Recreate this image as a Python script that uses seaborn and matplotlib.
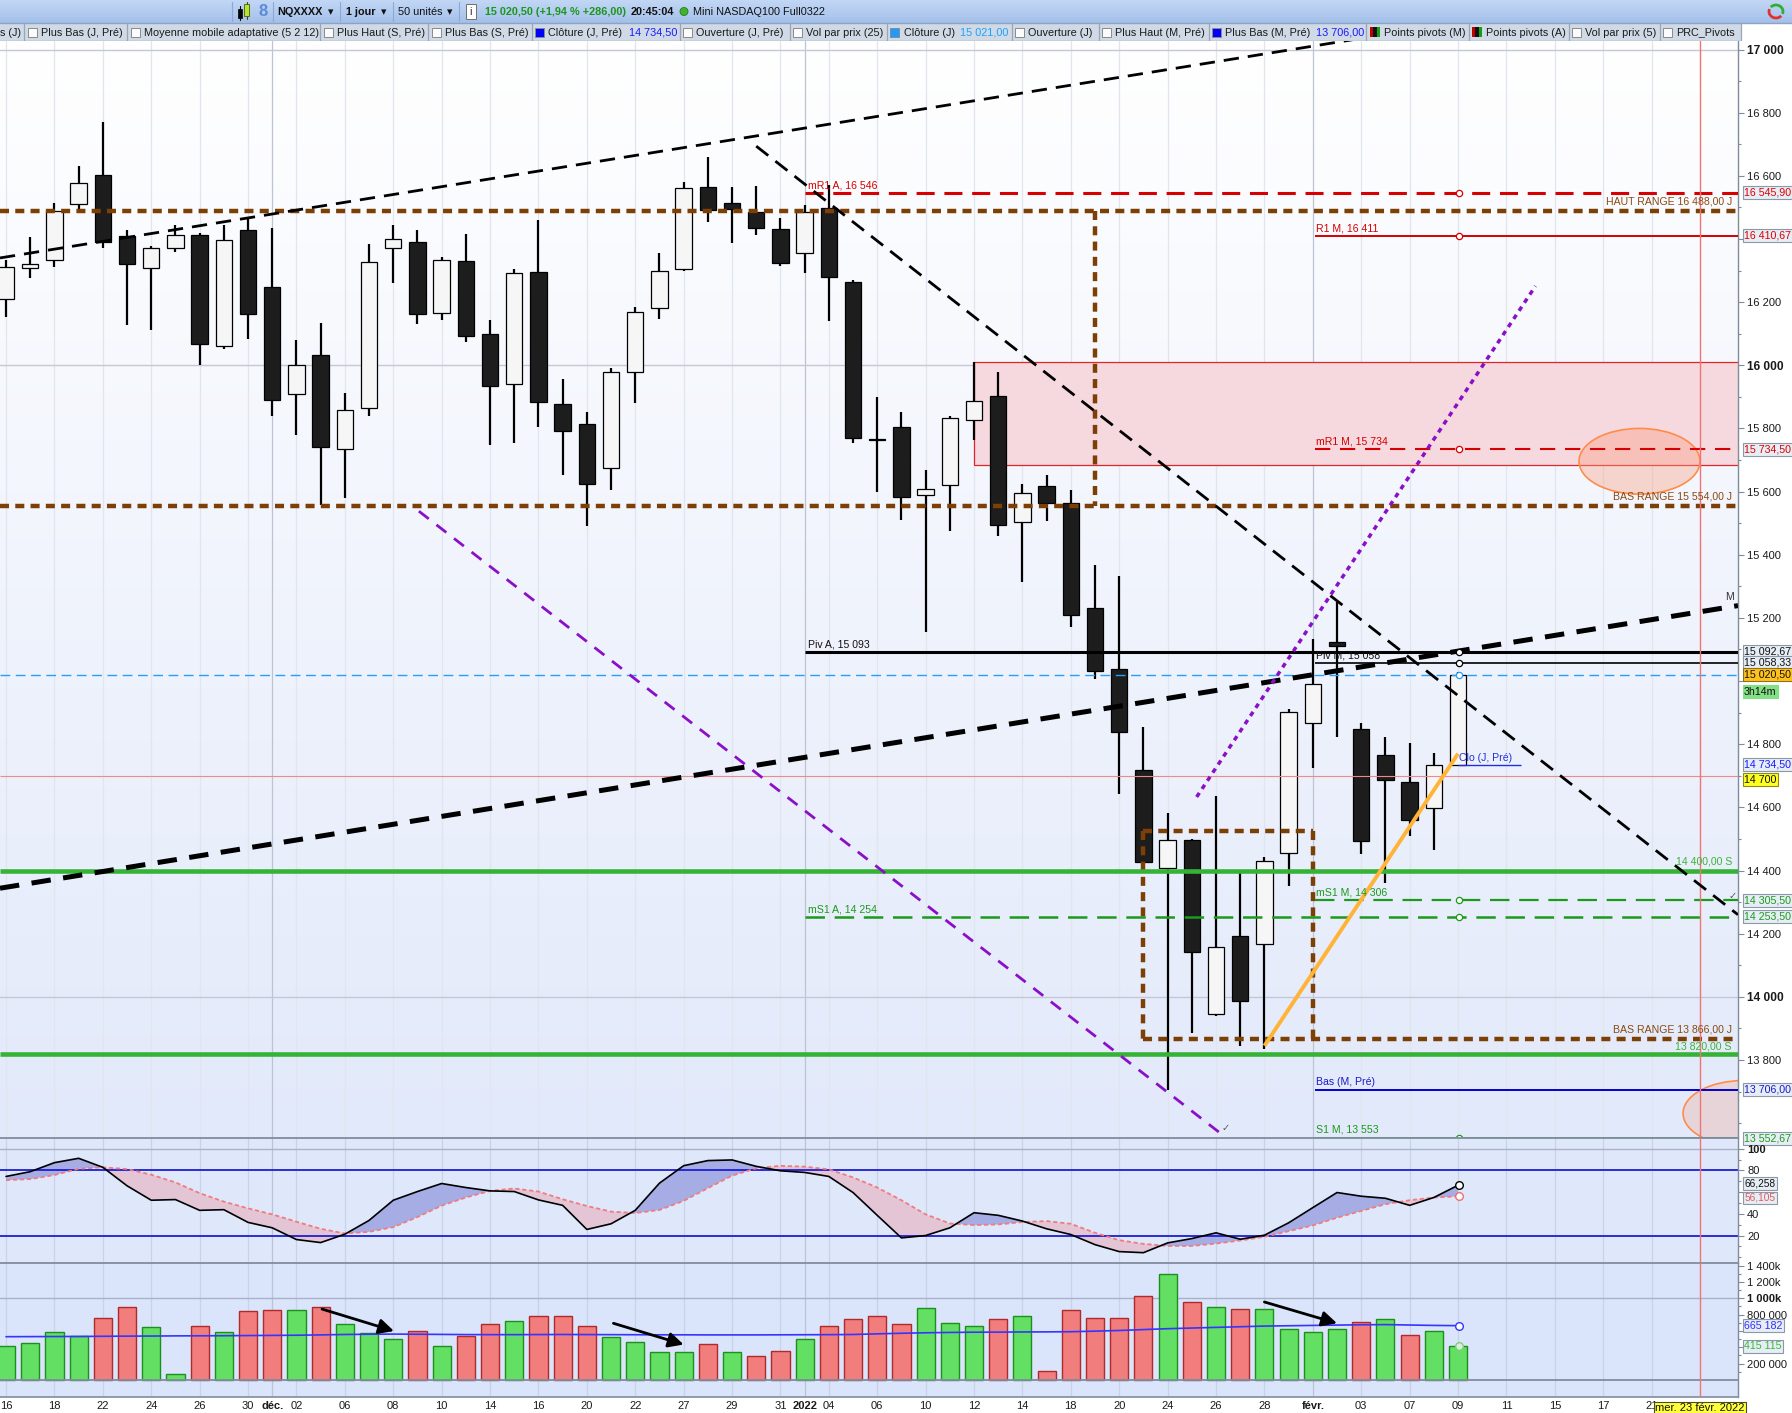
import numpy as np
import pandas as pd
import matplotlib
matplotlib.use("Agg")
import matplotlib.pyplot as plt
import matplotlib.transforms as mtransforms
from matplotlib.patches import Rectangle, Ellipse, Circle, Arc
from matplotlib.colors import LinearSegmentedColormap
import seaborn as sns

sns.set_style("white")
plt.rcParams['font.family'] = ['Liberation Sans', 'DejaVu Sans']
plt.rcParams['lines.scale_dashes'] = False
plt.rcParams['axes.unicode_minus'] = False

# ---------------- data ----------------
tick_pos = [0, 2, 4, 6, 8, 10, 11, 12, 14, 16, 18, 20, 22, 24, 26, 28, 30, 32, 33, 34,
            36, 38, 40, 42, 44, 46, 48, 50, 52, 54, 56, 58, 60, 62, 64, 66, 68]
tick_text = ["16", "18", "22", "24", "26", "30", "déc.", "02", "06", "08", "10", "14", "16",
             "20", "22", "27", "29", "31", "2022", "04", "06", "10", "12", "14", "18", "20",
             "24", "26", "28", "févr.", "03", "07", "09", "11", "15", "17", "21"]
bold_ticks = ["déc.", "2022", "févr."]

opens = [16211, 16307, 16332, 16510, 16604, 16408, 16309, 16370, 16414, 16061,
         16427, 16249, 15909, 16034, 15735, 15864, 16370, 16389, 16167, 16330,
         16100, 15940, 16296, 15879, 15813, 15676, 15980, 16182, 16305, 16565,
         16514, 16485, 16432, 16356, 16499, 16265, 15766, 15804, 15590, 15621,
         15827, 15904, 15504, 15619, 15563, 15232, 15039, 14719, 14409, 14496,
         13945, 14193, 14167, 14454, 14866, 15125, 14848, 14767, 14681, 14598,
         14734.5]
highs = [16332, 16405, 16514, 16632, 16769, 16427, 16377, 16445, 16420, 16445,
         16464, 16436, 16080, 16134, 15913, 16383, 16445, 16427, 16342, 16417,
         16143, 16305, 16461, 15958, 15853, 15990, 16186, 16357, 16581, 16660,
         16565, 16569, 16465, 16508, 16570, 16270, 15899, 15853, 15669, 15841,
         16010, 15980, 15623, 15654, 15604, 15367, 15334, 14855, 14581, 14500,
         14637, 14393, 14442, 14910, 15132, 15251, 14868, 14824, 14804, 14773,
         15030]
lows = [16154, 16277, 16312, 16495, 16371, 16128, 16113, 16359, 16001, 16051,
        16082, 15841, 15779, 15559, 15580, 15839, 16260, 16132, 16145, 16073,
        15749, 15755, 15805, 15652, 15491, 15605, 15880, 16146, 16300, 16453,
        16387, 16412, 16314, 16292, 16139, 15754, 15599, 15510, 15154, 15475,
        15764, 15460, 15314, 15506, 15172, 15007, 14642, 14420, 13706, 13887,
        13940, 13845, 13835, 14351, 14724, 14822, 14452, 14361, 14509, 14465,
        14730]
closes = [16311, 16320, 16488, 16578, 16389, 16322, 16373, 16413, 16067, 16398,
          16163, 15889, 16002, 15740, 15859, 16326, 16401, 16163, 16335, 16093,
          15936, 16292, 15883, 15791, 15624, 15980, 16170, 16299, 16562, 16491,
          16494, 16434, 16325, 16485, 16279, 15770, 15762, 15583, 15609, 15832,
          15888, 15494, 15597, 15563, 15209, 15032, 14840, 14427, 14497, 14143,
          14157, 13988, 14431, 14901, 14990, 15112, 14494, 14687, 14561, 14734.5,
          15020.5]
volumes = [417, 455, 591, 541, 764, 888, 653, 70, 665, 591,
           839, 851, 851, 888, 690, 578, 496, 603, 417, 537,
           690, 727, 789, 789, 665, 529, 467, 343, 343, 442,
           343, 293, 355, 504, 665, 752, 789, 690, 876, 702,
           665, 752, 789, 107, 851, 764, 764, 1025, 1297, 950,
           888, 864, 864, 628, 591, 628, 715, 752, 554, 603,
           415.115]
vol_ma = [530, 531, 532, 533, 535, 537, 538, 540, 541, 542,
          544, 546, 548, 552, 557, 560, 562, 560, 558, 556,
          555, 555, 556, 557, 556, 555, 554, 553, 553, 552,
          552, 552, 553, 554, 555, 557, 565, 572, 578, 582,
          585, 586, 588, 589, 591, 598, 606, 617, 628, 636,
          644, 652, 660, 664, 668, 672, 676, 678, 673, 668,
          665.182]
stoch_k = [74.4, 78.8, 87.1, 91.1, 82.8, 65.8, 52.5, 53.1, 43.2, 43.8,
           32.1, 27.1, 16.3, 13.5, 21.2, 33.9, 52.5, 60.5, 67.9, 64.2,
           61.1, 60.5, 52.8, 47.8, 25.6, 30.8, 43.2, 68.2, 84.3, 89.0,
           89.6, 83.7, 79.6, 78.1, 74.4, 59.6, 38.6, 17.8, 20.0, 27.1,
           41.0, 38.6, 33.3, 26.2, 20.9, 11.6, 5.2, 4.2, 13.2, 17.2,
           22.5, 16.6, 20.3, 31.7, 45.7, 59.6, 56.2, 54.3, 47.8, 55.0,
           66.258]
stoch_d = [71.0, 72.0, 75.7, 81.5, 82.8, 81.2, 76.0, 68.9, 59.0, 51.2,
           45.0, 39.5, 32.7, 26.2, 21.9, 23.4, 27.7, 37.0, 47.5, 55.0,
           61.1, 63.3, 60.5, 53.4, 47.2, 42.0, 40.7, 43.5, 51.9, 63.6,
           75.1, 81.9, 84.2, 83.4, 80.9, 73.5, 64.2, 52.5, 39.5, 31.1,
           29.6, 30.2, 32.4, 33.3, 30.8, 22.5, 15.7, 12.3, 10.4, 10.4,
           12.6, 15.4, 18.8, 24.0, 29.3, 36.4, 42.6, 48.8, 52.5, 55.0,
           56.105]

# levels
haut_range = 16488.0
bas_range = 15554.0
bas_range2 = 13866.0
box2_top = 14526.0
mr1_a, r1_m, mr1_m = 16545.90, 16410.67, 15734.50
piv_a, piv_m = 15092.67, 15058.33
last_price = 15020.50
clo_prev = 14734.50
alert_level = 14700.0
sup_hi, sup_lo = 14400.0, 13820.0
ms1_m, ms1_a = 14305.50, 14253.50
bas_m = 13706.00
s1_m = 13552.67
zone_top, zone_bot = 16010.0, 15683.0

thin_trends = [((-0.25, 16340), (57.5, 17054)), ((31.0, 16694), (71.57, 14260))]
thick_trends = [((-0.25, 14344), (71.57, 15239))]
purple_dash = [((17.06, 15538), (50.4, 13555))]
purple_dot = [((49.2, 14633), (63.2, 16251))]
orange_trend = [((52.0, 13845), (60.0, 14770))]
vol_arrows = [((13.06, 868), (16.03, 599)), ((25.1, 694), (28.0, 434)), ((52.0, 955), (55.0, 694))]

# ---------------- figure ----------------
W, H = 1792, 1413
fig = plt.figure(figsize=(W / 100, H / 100), dpi=100)
fig.patch.set_facecolor('white')


def frect(x0, y0, x1, y1):
    return [x0 / W, 1 - y1 / H, (x1 - x0) / W, (y1 - y0) / H]


AXR = 1738
ax_p = fig.add_axes(frect(0, 41, AXR, 1138))
ax_o = fig.add_axes(frect(0, 1138, AXR, 1263))
ax_v = fig.add_axes(frect(0, 1263, AXR, 1397))
XL = (-0.25, 71.57)
PY = (13553, 17027)
OY = (-5.3, 109.8)
VY = (-208, 1432)

x = np.arange(len(opens))
o = np.array(opens, float); h = np.array(highs, float)
l = np.array(lows, float); c = np.array(closes, float)

# price background gradient
cm_bg = LinearSegmentedColormap.from_list('bg', ['#ffffff', '#e2e9fa'])
ax_p.imshow(np.linspace(0, 1, 256).reshape(-1, 1), aspect='auto', cmap=cm_bg,
            extent=[0, 1, 0, 1], transform=ax_p.transAxes, zorder=0)
ax_o.set_facecolor('#dfe7fb')
ax_v.set_facecolor('#dae4fa')

for ax, gc in [(ax_p, '#e0e5ee'), (ax_o, '#c9d3e8'), (ax_v, '#c9d3e8')]:
    for p, t in zip(tick_pos, tick_text):
        ax.axvline(p, color=('#bcc4d4' if t in bold_ticks else gc), lw=0.9, zorder=0.5)
    ax.axvline(70, color='#f07474', lw=1.0, zorder=6)

for yv in (14000, 16000, 17000):
    ax_p.axhline(yv, color='#c3c8d4', lw=1.0, zorder=0.6)

# pink zone
ax_p.add_patch(Rectangle((40, zone_bot), XL[1] - 40 + 1, zone_top - zone_bot,
                         fc='#f6d8df', ec='#e02626', lw=0.9, zorder=1.5))

# candles
up = c >= o
ax_p.vlines(x, l, h, color='black', lw=1.6, zorder=3)
blo = np.minimum(o, c)
bh = np.maximum(np.abs(c - o), 4)
ax_p.bar(x[up], bh[up], bottom=blo[up], width=0.68, color='#f6f6f6', edgecolor='black', lw=0.9, zorder=3.5)
ax_p.bar(x[~up], bh[~up], bottom=blo[~up], width=0.68, color='#1d1d1d', edgecolor='black', lw=0.9, zorder=3.5)


def seg(ax, x0, x1, y0, y1, color, lw, dashes=None, z=5):
    ln, = ax.plot([x0, x1], [y0, y1], color=color, lw=lw, zorder=z, solid_capstyle='butt')
    if dashes:
        ln.set_dashes(dashes)
        ln.set_dash_capstyle('butt')
    return ln


E = XL[1] + 0.5
BROWN = '#7c3f06'
seg(ax_p, XL[0], E, haut_range, haut_range, BROWN, 3.2, (6.5, 4.5))
seg(ax_p, XL[0], E, bas_range, bas_range, BROWN, 3.2, (6.5, 4.5))
seg(ax_p, 45.0, 45.0, haut_range, bas_range, BROWN, 3.2, (6.5, 4.5))
seg(ax_p, 47.0, 54.0, box2_top, box2_top, BROWN, 3.2, (6.5, 4.5))
seg(ax_p, 47.0, 47.0, box2_top, bas_range2, BROWN, 3.2, (6.5, 4.5))
seg(ax_p, 54.0, 54.0, box2_top, bas_range2, BROWN, 3.2, (6.5, 4.5))
seg(ax_p, 47.0, E, bas_range2, bas_range2, BROWN, 3.2, (6.5, 4.5))

RED = '#d60000'
GREEN = '#1b9a1b'
seg(ax_p, 33.0, E, mr1_a, mr1_a, RED, 2.2, (13, 7))
seg(ax_p, 54.1, E, r1_m, r1_m, RED, 1.4)
seg(ax_p, 54.1, E, mr1_m, mr1_m, RED, 1.5, (11, 7))
seg(ax_p, 33.0, E, piv_a, piv_a, 'black', 2.2)
seg(ax_p, 54.1, E, piv_m, piv_m, 'black', 1.2)
seg(ax_p, XL[0], E, last_price, last_price, '#2a9df4', 1.0, (7, 4))
seg(ax_p, XL[0], E, alert_level, alert_level, '#f08a8a', 0.8)
seg(ax_p, XL[0], E, sup_hi, sup_hi, '#36b336', 3.3)
seg(ax_p, XL[0], E, sup_lo, sup_lo, '#36b336', 3.3)
seg(ax_p, 54.1, E, ms1_m, ms1_m, GREEN, 1.6, (14, 7))
seg(ax_p, 33.0, E, ms1_a, ms1_a, GREEN, 1.8, (14, 7))
seg(ax_p, 54.1, E, bas_m, bas_m, '#0000cc', 1.4)
seg(ax_p, 54.1, E, s1_m, s1_m, '#2a9a2a', 1.4)
seg(ax_p, 60.0, 62.6, clo_prev, clo_prev, '#2030e0', 1.0)

# ellipses
ax_p.add_patch(Ellipse((67.5, 15696), 5.0, 208, fc=(0.98, 0.62, 0.5, 0.38), ec='#ff8c4a', lw=1.2, zorder=2))
ax_p.add_patch(Ellipse((71.8, 13631), 5.0, 208, fc=(0.95, 0.65, 0.55, 0.3), ec='#ff8c4a', lw=1.2, zorder=2))

# trendlines
for (x0, y0), (x1, y1) in thin_trends:
    seg(ax_p, x0, x1, y0, y1, 'black', 2.0, (11, 6.5), z=7)
for (x0, y0), (x1, y1) in thick_trends:
    seg(ax_p, x0, x1, y0, y1, 'black', 3.6, (14, 9), z=7)
for (x0, y0), (x1, y1) in purple_dash:
    seg(ax_p, x0, x1, y0, y1, '#8a10c8', 2.0, (9, 7), z=7)
for (x0, y0), (x1, y1) in purple_dot:
    seg(ax_p, x0, x1, y0, y1, '#8a10c8', 2.5, (3.5, 3.5), z=7)
for (x0, y0), (x1, y1) in orange_trend:
    seg(ax_p, x0, x1, y0, y1, '#ffb437', 2.8, z=7)

for yv, col in [(mr1_a, RED), (r1_m, RED), (mr1_m, RED), (piv_a, 'black'), (piv_m, 'black'),
                (last_price, '#2a9df4'), (ms1_m, GREEN), (ms1_a, GREEN), (s1_m, GREEN)]:
    ax_p.plot([60.05], [yv], 'o', ms=4.5, mfc='white', mec=col, mew=0.9, zorder=8)

LF = 7.6


def lab(xv, yv, s, col, ha='left', va='bottom', ax=ax_p):
    ax.text(xv, yv, s, color=col, fontsize=LF, ha=ha, va=va, zorder=9)


lab(33.15, mr1_a + 8, 'mR1 A, 16 546', RED)
lab(54.15, r1_m + 8, 'R1 M, 16 411', RED)
lab(54.15, mr1_m + 8, 'mR1 M, 15 734', RED)
lab(33.15, piv_a + 8, 'Piv A, 15 093', '#111111')
lab(54.15, piv_m + 8, 'Piv M, 15 058', '#111111')
lab(33.15, ms1_a + 8, 'mS1 A, 14 254', GREEN)
lab(54.15, ms1_m + 8, 'mS1 M, 14 306', GREEN)
lab(54.15, bas_m + 8, 'Bas (M, Pré)', '#1a1acc')
lab(54.15, s1_m + 10, 'S1 M, 13 553', GREEN)
lab(60.05, clo_prev + 6, 'Clo (J, Pré)', '#2030e0')
XR = 71.32
lab(XR, haut_range + 14, 'HAUT RANGE 16 488,00 J', '#8a4a14', ha='right')
lab(XR, bas_range + 14, 'BAS RANGE 15 554,00 J', '#8a4a14', ha='right')
lab(XR, bas_range2 + 14, 'BAS RANGE 13 866,00 J', '#8a4a14', ha='right')
lab(XR, sup_hi + 14, '14 400,00 S', '#3cb33c', ha='right')
lab(XR, sup_lo + 8, '13 820,00 S', '#3cb33c', ha='right')
lab(71.05, 15250, 'M', '#333333')
ax_p.text(50.4, 13585, '✓', fontsize=7, color='#555555', family='DejaVu Sans', ha='center', va='center', zorder=9)
ax_p.text(71.35, 14318, '✓', fontsize=7, color='#555555', family='DejaVu Sans', ha='center', va='center', zorder=9)

# ---------------- oscillator ----------------
k = np.array(stoch_k); d = np.array(stoch_d)
ax_o.fill_between(x, k, d, where=k >= d, interpolate=True, color='#a6ace4', lw=0, zorder=2)
ax_o.fill_between(x, k, d, where=k < d, interpolate=True, color='#e4c5d6', lw=0, zorder=2)
sns.lineplot(x=x, y=k, color='black', lw=1.2, ax=ax_o, zorder=4)
sns.lineplot(x=x, y=d, color='#f07c7c', lw=1.3, linestyle=(0, (3, 2)), ax=ax_o, zorder=3)
for yv in (20, 80):
    ax_o.axhline(yv, color='#1e1ed2', lw=1.3, zorder=2.5)
ax_o.axhline(100, color='#aab2c8', lw=1.0, zorder=1)
ax_o.plot([60.05], [k[-1]], 'o', ms=5.5, mfc='white', mec='black', mew=1.0, zorder=6)
ax_o.plot([60.05], [d[-1]], 'o', ms=5.5, mfc='white', mec='#f07070', mew=1.0, zorder=6)

# ---------------- volume ----------------
vol = np.array(volumes)
vup = np.r_[True, c[1:] >= c[:-1]]
vdf = pd.DataFrame({'x': x, 'vol': vol, 'up': vup})
sns.barplot(data=vdf[vdf.up], x='x', y='vol', native_scale=True, color='#63e063', saturation=1,
            edgecolor='#1d8f1d', linewidth=1.0, width=0.75, errorbar=None, ax=ax_v, zorder=3)
sns.barplot(data=vdf[~vdf.up], x='x', y='vol', native_scale=True, color='#f27d7d', saturation=1,
            edgecolor='#b02a2a', linewidth=1.0, width=0.75, errorbar=None, ax=ax_v, zorder=3)
sns.lineplot(x=x, y=np.array(vol_ma), color='#3535ff', lw=1.2, ax=ax_v, zorder=5)
ax_v.plot([60.05], [vol_ma[-1]], 'o', ms=5.5, mfc='white', mec='#3535ff', mew=1.0, zorder=6)
ax_v.plot([60.05], [vol[-1]], 'o', ms=5.5, mfc='#d8f0d8', mec='#7ccf7c', mew=1.0, zorder=6)
ax_v.axhline(1000, color='#a9b1c8', lw=1.0, zorder=1)
ax_v.axhline(0, color='#808d9e', lw=1.3, zorder=4)
for (x0, y0), (x1, y1) in vol_arrows:
    ax_v.annotate('', xy=(x1, y1), xytext=(x0, y0),
                  arrowprops=dict(arrowstyle='-|>,head_length=0.9,head_width=0.45', color='black', lw=2.0,
                                  shrinkA=0, shrinkB=0), zorder=7)

# ---------------- axes styling ----------------
for ax, yl in [(ax_p, PY), (ax_o, OY), (ax_v, VY)]:
    ax.set_xlim(*XL)
    ax.set_ylim(*yl)
    ax.set_xlabel(''); ax.set_ylabel('')
    for s in ('left', 'top', 'bottom'):
        ax.spines[s].set_visible(False)
    ax.spines['right'].set_color('#7f8c9c')
    ax.spines['right'].set_linewidth(1.0)
    ax.yaxis.tick_right()
    ax.tick_params(axis='y', which='major', length=4, width=0.8, pad=2.5, labelsize=8, colors='#7f8c9c',
                   labelcolor='#1a1a1a')
    ax.tick_params(axis='y', which='minor', length=2.5, width=0.8, colors='#7f8c9c')
for ax in (ax_o, ax_v):
    ax.spines['top'].set_visible(True)
    ax.spines['top'].set_color('#808d9e')
    ax.spines['top'].set_linewidth(1.3)
ax_v.spines['bottom'].set_visible(True)
ax_v.spines['bottom'].set_color('#808d9e')
ax_v.spines['bottom'].set_linewidth(1.2)

# tick labels hidden behind value tags in the original are left blank
pt = list(range(13800, 17001, 200))
hidden_price = (15000, 16400)
ax_p.set_yticks(pt)
ax_p.set_yticklabels(['' if v in hidden_price else f"{v:,}".replace(',', ' ') for v in pt])
ax_p.set_yticks(list(range(13600, 17001, 100)), minor=True)
for tl, v in zip(ax_p.get_yticklabels(), pt):
    if v in (14000, 16000, 17000):
        tl.set_fontweight('bold'); tl.set_fontsize(8.6)
ot = [20, 40, 60, 80, 100]
ax_o.set_yticks(ot); ax_o.set_yticklabels(['20', '40', '', '80', '100'])
ax_o.set_yticks([0, 10, 30, 50, 70, 90], minor=True)
ax_o.get_yticklabels()[-1].set_fontweight('bold')
vt = [200, 400, 600, 800, 1000, 1200, 1400]
vtl = ['200 000', '', '', '800 000', '1 000k', '1 200k', '1 400k']
ax_v.set_yticks(vt); ax_v.set_yticklabels(vtl)
ax_v.set_yticks([100, 300, 500, 700, 900, 1100, 1300], minor=True)
ax_v.get_yticklabels()[4].set_fontweight('bold')

for ax in (ax_p, ax_o):
    ax.set_xticks([])
ax_v.set_xticks(tick_pos)
ax_v.set_xticklabels(tick_text)
ax_v.tick_params(axis='x', length=0, pad=3, labelsize=8, labelcolor='#1a1a1a')
for tl in ax_v.get_xticklabels():
    if tl.get_text() in bold_ticks:
        tl.set_fontweight('bold')

trv = mtransforms.blended_transform_factory(ax_v.transData, ax_v.transAxes)
ax_v.text(70, -0.085, 'mer. 23 févr. 2022', transform=trv, ha='center', va='center', fontsize=8,
          color='#111111', bbox=dict(boxstyle='square,pad=0.15', fc='#ffff3a', ec='#4a4a30', lw=0.8),
          zorder=30, clip_on=False)


def tag(ax, yv, s, col, fc='#e6edf5', ec='#8a98a8', fs=7.7):
    tr = mtransforms.blended_transform_factory(ax.transAxes, ax.transData)
    ax.text(1.0035, yv, s, transform=tr, ha='left', va='center', fontsize=fs, color=col,
            bbox=dict(boxstyle='square,pad=0.14', fc=fc, ec=ec, lw=0.8), zorder=30, clip_on=False)


tag(ax_p, mr1_a, '16 545,90', '#e00000')
tag(ax_p, r1_m, '16 410,67', '#e00000')
tag(ax_p, mr1_m, '15 734,50', '#e00000')
tag(ax_p, piv_a, '15 092,67', '#111111')
tag(ax_p, piv_m, '15 058,33', '#111111')
tag(ax_p, last_price, '15 020,50', '#111111', fc='#ffc21a', ec='#8a7020')
tag(ax_p, 14966, '3h14m', '#111111', fc='#84e084', ec='#84e084')
tag(ax_p, clo_prev, '14 734,50', '#1a1aff')
tag(ax_p, alert_level - 12, '14 700', '#111111', fc='#ffff20', ec='#8a8a20')
tag(ax_p, ms1_m, '14 305,50', '#1d9a1d')
tag(ax_p, ms1_a, '14 253,50', '#1d9a1d')
tag(ax_p, bas_m, '13 706,00', '#1a1ad0')
tag(ax_p, s1_m, '13 552,67', '#1d9a1d')
tag(ax_o, k[-1] + 1.5, '66,258', '#111111', fs=7.3)
tag(ax_o, d[-1] - 1.5, '56,105', '#e05a5a', fs=7.3)
tag(ax_v, vol_ma[-1], '665 182', '#3030ff')
tag(ax_v, vol[-1], '415 115', '#3cb83c')

# ---------------- toolbar ----------------
ax_tb = fig.add_axes([0, 1 - 41 / H, 1, 41 / H])
cm_tb = LinearSegmentedColormap.from_list('tb', ['#c2d7f5', '#a4c0ea'])
ax_tb.imshow(np.linspace(0, 1, 50).reshape(-1, 1), aspect='auto', cmap=cm_tb,
             extent=[0, W, 23, 0], zorder=0)
ax_tb.add_patch(Rectangle((0, 23), 1741, 18, fc='#cfdae6', ec='none', zorder=0.5))
ax_tb.plot([0, W], [23, 23], color='#8aa3c6', lw=1)
ax_tb.plot([0, 1741], [40.5, 40.5], color='#98a4b4', lw=1)
for xs in (232, 273, 340, 393, 459):
    ax_tb.plot([xs, xs], [2, 21], color='#8ea8cf', lw=0.8)
ax_tb.plot([240, 240], [6, 20], color='black', lw=0.8)
ax_tb.add_patch(Rectangle((238, 9), 4, 9, fc='black', ec='black', lw=0.5, zorder=2))
ax_tb.plot([246.5, 246.5], [2, 19], color='#404010', lw=0.8)
ax_tb.add_patch(Rectangle((244, 4), 5, 12, fc='#b5e62a', ec='#4a5a10', lw=0.6, zorder=2))
ax_tb.text(263.5, 12, '8', fontsize=12, color='#5b8bd8', ha='center', va='center', fontweight='bold')
ax_tb.add_patch(Rectangle((466, 4), 10, 15, fc='white', ec='#707070', lw=0.7, zorder=2))
ax_tb.text(471, 12, 'i', fontsize=8, color='#333333', ha='center', va='center', zorder=3)
ax_tb.add_patch(Circle((684, 11.5), 4, fc='#3fb42a', ec='#2a7a1a', lw=0.6, zorder=2))
TF = 7.8
ax_tb.text(277, 12, 'NQXXXX', fontsize=TF, fontweight='bold', color='#111111', va='center')
ax_tb.text(328, 12, '▾', fontsize=TF, color='#111111', va='center', family='DejaVu Sans')
ax_tb.text(346, 12, '1 jour', fontsize=TF, fontweight='bold', color='#111111', va='center')
ax_tb.text(381, 12, '▾', fontsize=TF, color='#111111', va='center', family='DejaVu Sans')
ax_tb.text(398, 12, '50 unités', fontsize=TF, color='#111111', va='center')
ax_tb.text(447, 12, '▾', fontsize=TF, color='#111111', va='center', family='DejaVu Sans')
ax_tb.text(485, 12, '15 020,50 (+1,94 % +286,00)', fontsize=TF, fontweight='bold', color='#1d961d', va='center')
ax_tb.text(631, 12, '20:45:04', fontsize=TF, fontweight='bold', color='#111111', va='center')
ax_tb.text(693, 12, 'Mini NASDAQ100 Full0322', fontsize=TF, color='#111111', va='center')
ax_tb.add_patch(Arc((1776, 11.5), 14, 13, theta1=40, theta2=200, color='#e03030', lw=2))
ax_tb.add_patch(Arc((1776, 11.5), 14, 13, theta1=220, theta2=380, color='#30b030', lw=2))

row2 = [('text', 0, 's (J)'), ('sep', 24), ('box', 28), ('text', 41, 'Plus Bas (J, Pré)'), ('sep', 127),
        ('box', 131), ('text', 144, 'Moyenne mobile adaptative (5 2 12)'), ('sep', 320), ('box', 324),
        ('text', 337, 'Plus Haut (S, Pré)'), ('sep', 428), ('box', 432), ('text', 445, 'Plus Bas (S, Pré)'),
        ('sep', 532), ('bbox', 535), ('text', 548, 'Clôture (J, Pré)'), ('val', 629, '14 734,50', '#1a1aff'),
        ('sep', 680), ('box', 683), ('text', 696, 'Ouverture (J, Pré)'), ('sep', 790), ('box', 793),
        ('text', 806, 'Vol par prix (25)'), ('sep', 887), ('lbox', 890), ('text', 904, 'Clôture (J)'),
        ('val', 960, '15 021,00', '#1ea0ff'), ('sep', 1012), ('box', 1015), ('text', 1028, 'Ouverture (J)'),
        ('sep', 1099), ('box', 1102), ('text', 1115, 'Plus Haut (M, Pré)'), ('sep', 1209), ('bbox', 1212),
        ('text', 1225, 'Plus Bas (M, Pré)'), ('val', 1316, '13 706,00', '#1a1aff'), ('sep', 1366),
        ('piv', 1370), ('text', 1384, 'Points pivots (M)'), ('sep', 1469), ('piv', 1472),
        ('text', 1486, 'Points pivots (A)'), ('sep', 1569), ('box', 1572), ('text', 1585, 'Vol par prix (5)'),
        ('sep', 1660), ('box', 1663), ('text', 1676, 'PRC_Pivots'), ('sep', 1741)]
for it in row2:
    kind, xs = it[0], it[1]
    if kind == 'sep':
        ax_tb.plot([xs, xs], [23, 41], color='#9aa6b6', lw=0.9, zorder=2)
    elif kind in ('box', 'bbox', 'lbox'):
        fcol = {'box': '#fbfbfb', 'bbox': '#0000ff', 'lbox': '#1e9bff'}[kind]
        ax_tb.add_patch(Rectangle((xs, 27.5), 9, 9, fc=fcol, ec='#8a8a8a', lw=0.7, zorder=2))
    elif kind == 'piv':
        for j, colr in enumerate(['#c00000', '#101010', '#10a010']):
            ax_tb.add_patch(Rectangle((xs + j * 3.4, 27), 3.4, 10, fc=colr, ec='none', zorder=2))
    elif kind == 'text':
        ax_tb.text(xs, 32.5, it[2], fontsize=TF, color='#1a1a1a', va='center', zorder=3)
    elif kind == 'val':
        ax_tb.text(xs, 32.5, it[2], fontsize=TF, color=it[3], va='center', zorder=3)
ax_tb.set_xlim(0, W)
ax_tb.set_ylim(41, 0)
ax_tb.axis('off')

fig.savefig('out.png', dpi=100)
